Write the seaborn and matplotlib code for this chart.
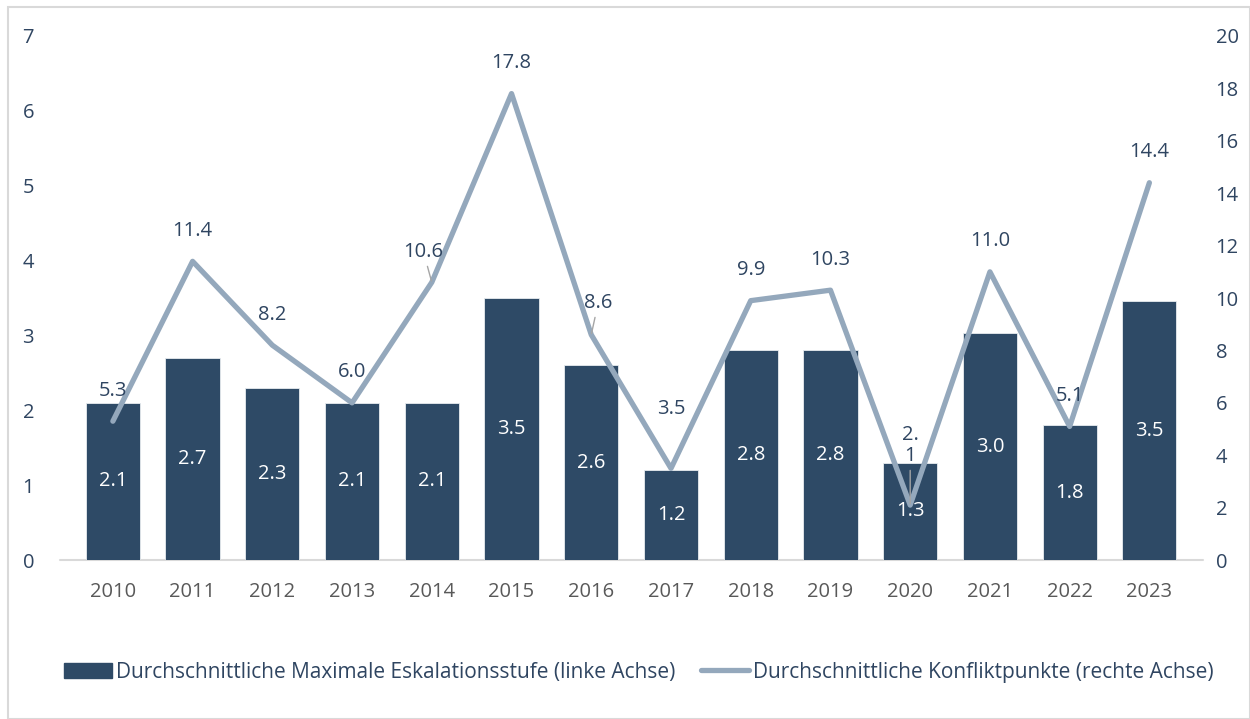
import matplotlib
matplotlib.use("Agg")
import matplotlib.pyplot as plt
import seaborn as sns
import pandas as pd
import numpy as np
from matplotlib.patches import Rectangle
from matplotlib.lines import Line2D
from matplotlib.patches import Patch

years = ["2010", "2011", "2012", "2013", "2014", "2015", "2016",
         "2017", "2018", "2019", "2020", "2021", "2022", "2023"]
escalation = [2.1, 2.7, 2.3, 2.1, 2.1, 3.5, 2.6, 1.2, 2.8, 2.8, 1.3, 3.03, 1.8, 3.46]
conflict_points = [5.3, 11.4, 8.2, 6.0, 10.6, 17.8, 8.6, 3.5, 9.9, 10.3, 2.1, 11.0, 5.1, 14.4]
bar_name = "Durchschnittliche Maximale Eskalationsstufe (linke Achse)"
line_name = "Durchschnittliche Konfliktpunkte (rechte Achse)"

BAR = "#2E4A66"
LINE = "#94A8BC"
TXT = "#2F4561"
XTXT = "#595959"
FS = 14.5

sns.set_theme(style="white")
plt.rcParams["font.family"] = ["Open Sans", "DejaVu Sans"]

df = pd.DataFrame({"year": years, "esc": escalation, "pts": conflict_points})
df["pos"] = np.arange(len(years))

fig = plt.figure(figsize=(12.5, 7.19), dpi=100)
ax = fig.add_axes([0.0584, 0.221, 0.893, 0.729])

sns.barplot(data=df, x="year", y="esc", color=BAR, width=0.68, saturation=1, ax=ax,
            edgecolor="#E8ECF0", linewidth=0.6, zorder=2)
ax.bar_label(ax.containers[0], labels=[f"{v:.1f}" for v in escalation],
             label_type="center", color="white", fontsize=FS)
ax.set_ylim(0, 7)
ax.set_yticks(range(0, 8))
ax.set_xlabel("")
ax.set_ylabel("")
ax.axhline(0, xmin=-0.012, xmax=1.012, color="#D9D9D9", lw=1.5, clip_on=False, zorder=1)

ax2 = ax.twinx()
sns.lineplot(data=df, x="pos", y="pts", color=LINE, linewidth=3.8, ax=ax2,
             legend=False)
for l in ax2.lines:
    l.set_solid_capstyle("round")
ax2.set_ylim(0, 20)
ax2.set_yticks(range(0, 21, 2))
ax2.set_ylabel("")
ax2.set_xlabel("")

# line data labels
special = {4: (-6, 22, True), 6: (5, 23, True), 7: (0, 43, False), 10: (0, 43, True)}
for i, v in enumerate(conflict_points):
    dx, dy, leader = special.get(i, (0, 22, False))
    txt = f"{v:.1f}"
    if i == 10:
        txt = txt[:2] + "\n" + txt[2:]
    ax2.annotate(txt, xy=(i, v), xytext=(dx, dy), textcoords="offset points",
                 ha="center", va="center", color=TXT, fontsize=FS,
                 linespacing=1.05,
                 arrowprops=dict(arrowstyle="-", color="#A5A5A5", lw=1.0,
                                 shrinkA=1, shrinkB=1) if leader else None)

for a in (ax, ax2):
    for s in a.spines.values():
        s.set_visible(False)
    a.tick_params(axis="both", length=0, labelsize=FS, colors=TXT)
    a.grid(False)
ax.tick_params(axis="x", pad=16, colors=XTXT)
ax.tick_params(axis="y", pad=28)
ax2.tick_params(axis="y", pad=19)
ax.set_xlim(-0.5, len(years) - 0.5)
ax2.set_xlim(-0.5, len(years) - 0.5)

handles = [Patch(facecolor=BAR, edgecolor=BAR),
           Line2D([0], [0], color=LINE, linewidth=3.8, solid_capstyle="round")]
fig.legend(handles, [bar_name, line_name], loc="center", bbox_to_anchor=(0.511, 0.065),
           ncol=2, frameon=False, fontsize=15, labelcolor=TXT,
           handlelength=2.3, handletextpad=0.2, columnspacing=1.2)

fig.add_artist(Rectangle((0.006, 0.0), 0.994, 0.99, transform=fig.transFigure,
                         fill=False, edgecolor="#D9D9D9", linewidth=1.5))

fig.savefig("out.png", dpi=100)
